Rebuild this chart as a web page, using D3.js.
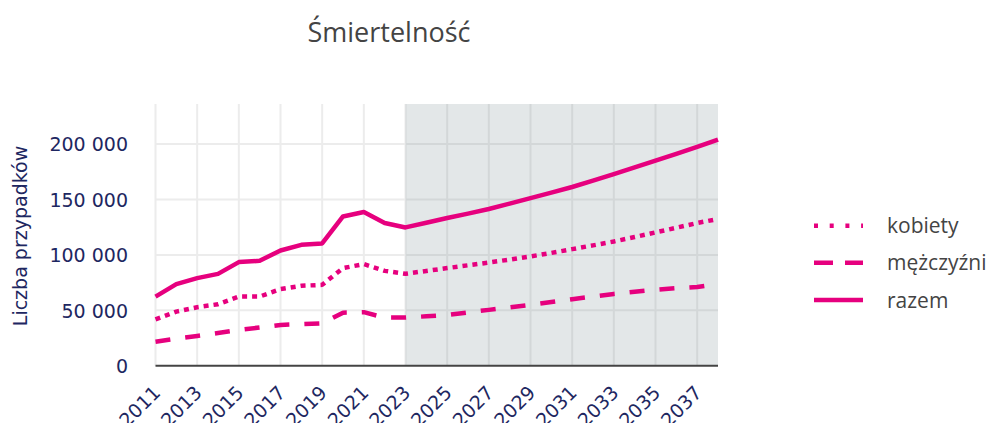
<!DOCTYPE html>
<html>
<head>
<meta charset="utf-8">
<script src="https://cdn.jsdelivr.net/npm/d3@7/dist/d3.min.js"></script>
<style>
  html, body { margin: 0; padding: 0; background: #fff; }
  svg { display: block; }
</style>
</head>
<body>
<svg id="chart" width="992" height="423"></svg>
<script>
const years = [2011,2012,2013,2014,2015,2016,2017,2018,2019,2020,2021,2022,2023,2024,2025,2026,2027,2028,2029,2030,2031,2032,2033,2034,2035,2036,2037,2038];
const kobiety = [41900,48800,52800,55500,62400,62400,69100,72100,73000,88100,91700,85600,83000,85500,88100,90600,93100,95800,98600,101800,105200,108600,112100,116100,120300,124500,128800,132400];
const mezczyzni = [21700,24500,26900,29500,32300,34500,36800,37500,38300,47900,48300,43400,43400,44600,45800,48100,50400,52600,54900,57400,60000,62400,64800,66700,68500,70000,71100,73800];
const razem = [62400,73600,79000,82900,93500,94700,104000,109100,110300,134700,138700,128800,124800,129000,133300,137300,141400,146300,151300,156200,161300,167000,173000,179000,185100,191200,197500,204100];
const yTicks = [0, 50000, 100000, 150000, 200000];
const xTicks = [2011,2013,2015,2017,2019,2021,2023,2025,2027,2029,2031,2033,2035,2037];
const projectionStart = 2023;
const seriesNames = ["kobiety", "mężczyźni", "razem"];
const titleText = "Śmiertelność";
const yTitle = "Liczba przypadków";

const color = "#e6007e";
const navy = "#1e2761";
const svg = d3.select("#chart");

const x = d3.scaleLinear().domain([2011, 2038]).range([155.5, 718]);
const y = d3.scaleLinear().domain([0, 236200]).range([365.7, 104]);

const loc = d3.formatLocale({decimal: ",", thousands: " ", grouping: [3], currency: ["", ""]});
const fmt = loc.format(",d");

// grid
const grid = svg.append("g");
grid.selectAll("line.v").data(xTicks).join("line")
  .attr("x1", d => x(d)).attr("x2", d => x(d))
  .attr("y1", y.range()[1]).attr("y2", y.range()[0])
  .attr("stroke", "#ececec").attr("stroke-width", 2);
grid.selectAll("line.h").data(yTicks.filter(d => d > 0)).join("line")
  .attr("x1", x.range()[0]).attr("x2", x.range()[1])
  .attr("y1", d => y(d)).attr("y2", d => y(d))
  .attr("stroke", "#ececec").attr("stroke-width", 2);

// projection shading
svg.append("rect")
  .attr("x", x(projectionStart)).attr("y", y.range()[1])
  .attr("width", x(2038) - x(projectionStart))
  .attr("height", y.range()[0] - y.range()[1])
  .attr("fill", "rgb(115,135,140)").attr("fill-opacity", 0.2);

// zero line
svg.append("line")
  .attr("x1", x.range()[0]).attr("x2", x.range()[1])
  .attr("y1", y(0)).attr("y2", y(0))
  .attr("stroke", "#444").attr("stroke-width", 2);

// y axis
const yAxis = d3.axisLeft(y).tickValues(yTicks).tickFormat(fmt).tickSize(0).tickPadding(0);
const gy = svg.append("g").attr("transform", "translate(128,0)").call(yAxis);
gy.select(".domain").remove();
gy.selectAll("text").attr("font-family", "DejaVu Sans, Verdana, sans-serif")
  .attr("font-size", 19).attr("fill", navy).attr("dy", "0.36em");

// x axis
const xAxis = d3.axisBottom(x).tickValues(xTicks).tickFormat(d3.format("d")).tickSize(0);
const gx = svg.append("g").attr("transform", "translate(0,0)").call(xAxis);
gx.select(".domain").remove();
gx.selectAll(".tick").attr("transform", d => `translate(${x(d) + 6},394)`);
gx.selectAll("text")
  .attr("font-family", "DejaVu Sans, Verdana, sans-serif")
  .attr("font-size", 19).attr("fill", navy)
  .attr("text-anchor", "end").attr("y", 0).attr("dy", 0)
  .attr("transform", "rotate(-45)");

// y title
svg.append("text")
  .attr("transform", "translate(27,236) rotate(-90)")
  .attr("text-anchor", "middle")
  .attr("font-family", "DejaVu Sans, Verdana, sans-serif")
  .attr("font-size", 19).attr("fill", navy)
  .text(yTitle);

// lines
const dashes = {"kobiety": "5,5", "mężczyźni": "15,15", "razem": null};
const data = [kobiety, mezczyzni, razem];
const line = d3.line().x((d, i) => x(years[i])).y(d => y(d));
data.forEach((vals, k) => {
  svg.append("path").datum(vals)
    .attr("d", line).attr("fill", "none")
    .attr("stroke", color).attr("stroke-width", 4.5)
    .attr("stroke-linejoin", "round")
    .attr("stroke-dasharray", dashes[seriesNames[k]]);
});

// legend
const legendDash = {"kobiety": "4,11.7", "mężczyźni": "19,12", "razem": null};
const legY = [225.7, 262.7, 300];
seriesNames.forEach((name, k) => {
  const g = svg.append("g").attr("transform", `translate(0,${legY[k]})`);
  g.append("line").attr("x1", 814).attr("x2", 863).attr("y1", 0).attr("y2", 0)
    .attr("stroke", color).attr("stroke-width", 4.5)
    .attr("stroke-dasharray", legendDash[name]);
  g.append("text").attr("x", 887).attr("y", 7.5)
    .attr("font-family", "Open Sans, sans-serif").attr("font-size", 21)
    .attr("fill", "#444").text(name);
});

// title
svg.append("text")
  .attr("x", 389).attr("y", 42).attr("text-anchor", "middle")
  .attr("font-family", "Open Sans, sans-serif").attr("font-size", 27)
  .attr("fill", "#444").text(titleText);
</script>
</body>
</html>
